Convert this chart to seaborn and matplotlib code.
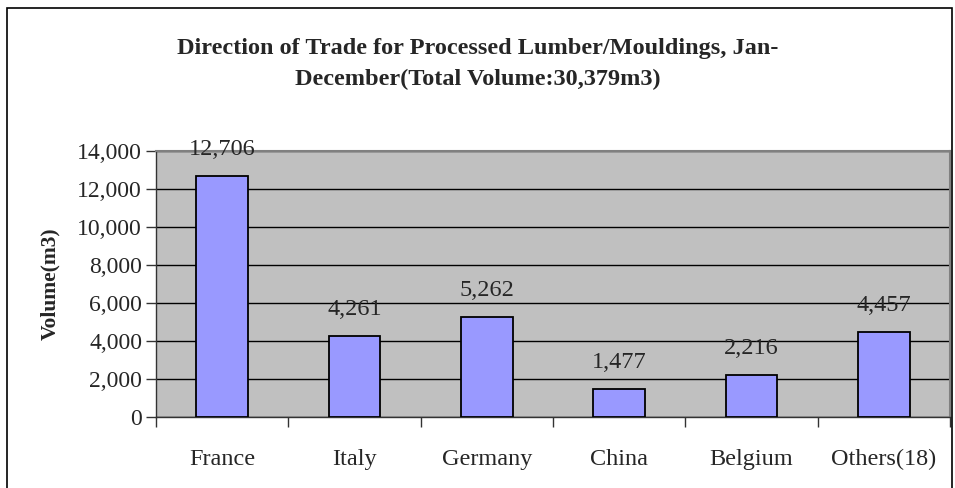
import matplotlib
matplotlib.use("Agg")
import matplotlib.pyplot as plt
import seaborn as sns
import pandas as pd
from matplotlib.patches import Rectangle
from matplotlib.ticker import FuncFormatter, FixedLocator

countries = ["France", "Italy", "Germany", "China", "Belgium", "Others(18)"]
volumes = [12706, 4261, 5262, 1477, 2216, 4457]
title = "Direction of Trade for Processed Lumber/Mouldings, Jan-\nDecember(Total Volume:30,379m3)"

sns.set_theme(style="white")
plt.rcParams['font.family'] = ['Liberation Serif', 'DejaVu Serif']

df = pd.DataFrame({"country": countries, "volume": volumes})

W, H = 955, 488
fig = plt.figure(figsize=(W / 100, H / 100), dpi=100)
ax = fig.add_axes([156 / W, 1 - 417 / H, (950 - 156) / W, (417 - 151) / H])
ax.set_facecolor("#C0C0C0")

sns.barplot(data=df, x="country", y="volume", ax=ax, color="#9999FF",
            saturation=1, width=0.39, edgecolor="black", linewidth=1.3, zorder=3)

ax.set_ylim(0, 14000)
ax.set_xlim(-0.5, len(countries) - 0.5)
ax.set_yticks(range(0, 14001, 2000))
ax.yaxis.set_major_formatter(FuncFormatter(lambda v, p: f"{int(v):,}"))
ax.grid(axis="y", color="black", linewidth=1.0, zorder=1)
ax.set_axisbelow(True)

# x ticks at category boundaries
ax.xaxis.set_major_locator(FixedLocator([i - 0.5 for i in range(len(countries) + 1)]))
ax.set_xticklabels([])
ax.xaxis.set_minor_locator(FixedLocator(list(range(len(countries)))))
ax.set_xticklabels(countries, minor=True)
ax.tick_params(axis="x", which="major", direction="out", length=7, width=1, color="#333333", bottom=True)
ax.tick_params(axis="x", which="minor", length=0, pad=23, labelsize=17.5)
ax.tick_params(axis="y", direction="out", length=7, width=1, color="#333333", left=True, labelsize=17, pad=3)

for s in ["left", "bottom"]:
    ax.spines[s].set_color("#333333")
    ax.spines[s].set_linewidth(1.0)
for s in ["top", "right"]:
    ax.spines[s].set_color("#808080")
    ax.spines[s].set_linewidth(1.5)

ax.set_xlabel("")
ax.set_ylabel("Volume(m3)", fontsize=15.5, fontweight="bold", labelpad=12)

for i, v in enumerate(volumes):
    ax.annotate(f"{v:,}", xy=(i, v), xytext=(0, 19), textcoords="offset points",
                ha="center", va="center", fontsize=17.5, zorder=4)

fig.text(478 / W, 1 - 64 / H, title, ha="center", va="center", fontsize=17.5,
         fontweight="bold", linespacing=1.6)

fig.patches.append(Rectangle((7 / W, -0.01), (952 - 7) / W, 1 - 8 / H + 0.01,
                             transform=fig.transFigure, fill=False,
                             edgecolor="black", linewidth=1.2))

fig.savefig("out.png", dpi=100, facecolor="white")
